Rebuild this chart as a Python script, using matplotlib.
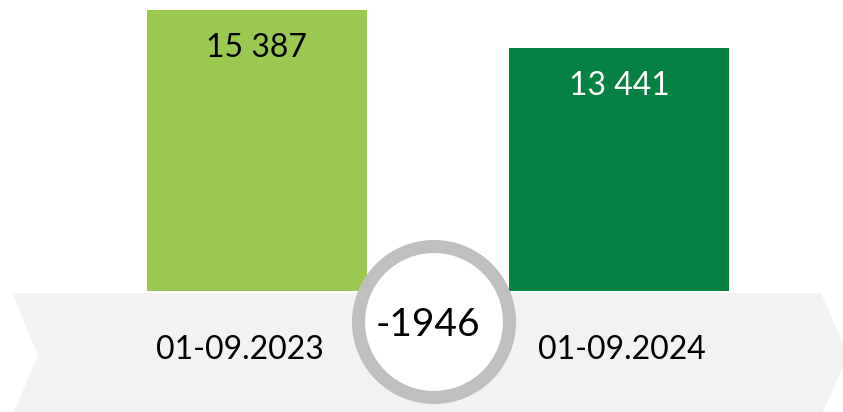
import matplotlib.pyplot as plt
from matplotlib.patches import Polygon, Circle

periods = ['01-09.2023', '01-09.2024']
values = [15387, 13441]
bar_colors = ['#9BC850', '#058141']
text_colors = ['black', 'white']

plt.rcParams['font.family'] = ['Lato', 'DejaVu Sans']

fig = plt.figure(figsize=(8.43, 4.12), dpi=100)

# bars, value axis starts at 1000 like the spreadsheet default
ax = fig.add_axes([0, 0.2937, 1, 0.7063])
x = [0, 1]
bars = ax.bar(x, values, width=0.607, color=bar_colors, bottom=0)
ax.set_xlim(-0.709, 1.617)
ax.set_ylim(1000, 15900)
ax.axis('off')

for b, v, c in zip(bars, values, text_colors):
    lbl = f'{v:,}'.replace(',', ' ')
    ax.annotate(lbl, (b.get_x() + b.get_width() / 2, v), xytext=(0, -27),
                textcoords='offset points', ha='center', va='center',
                fontsize=23, color=c)

# overlay in pixel units for the timeline band and the difference badge
ov = fig.add_axes([0, 0, 1, 1])
ov.set_xlim(0, 843)
ov.set_ylim(412, 0)
ov.axis('off')
ov.patch.set_alpha(0)

band = Polygon([(12, 293), (821, 293), (848, 355), (821, 417), (12, 417), (38, 355)],
               closed=True, facecolor='#F2F2F2', edgecolor='none')
ov.add_patch(band)

label_x = [240, 622]
for lx, p in zip(label_x, periods):
    ov.text(lx, 350, p, ha='center', va='center', fontsize=23, color='black')

ring = Circle((434, 322), 75.5, facecolor='white', edgecolor='#BFBFBF', linewidth=9.4)
ov.add_patch(ring)
diff = values[1] - values[0]
ov.text(428, 325, f'{diff}', ha='center', va='center', fontsize=28, color='black')

fig.savefig('out.png', dpi=100)
